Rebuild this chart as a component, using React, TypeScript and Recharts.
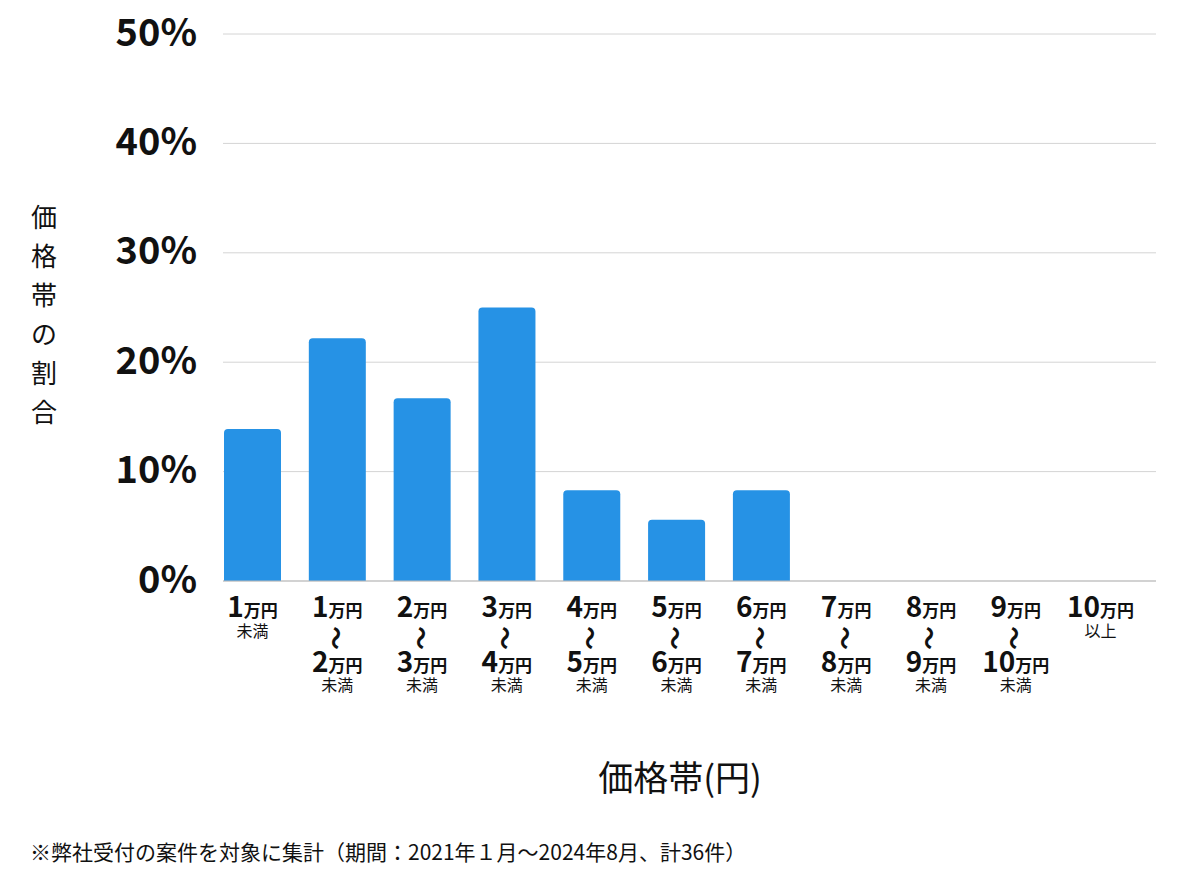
import { BarChart, Bar, XAxis, YAxis, CartesianGrid } from 'recharts';

const categories = [
  '1万円未満',
  '1万円〜2万円未満',
  '2万円〜3万円未満',
  '3万円〜4万円未満',
  '4万円〜5万円未満',
  '5万円〜6万円未満',
  '6万円〜7万円未満',
  '7万円〜8万円未満',
  '8万円〜9万円未満',
  '9万円〜10万円未満',
  '10万円以上',
];
const shares = [13.9, 22.2, 16.7, 25.0, 8.3, 5.6, 8.3, 0, 0, 0, 0];
const yTicks = [0, 10, 20, 30, 40, 50];
const yTitle = '価格帯の割合';
const xTitle = '価格帯(円)';
const note = '※弊社受付の案件を対象に集計（期間：2021年１月～2024年8月、計36件）';

const data = categories.map((c, i) => ({ name: c, share: shares[i] }));

const FONT = '"Noto Sans CJK JP", "Noto Sans", sans-serif';

function Yen({ x, y, n }: { x: number; y: number; n: string }) {
  return (
    <text x={x} y={y} textAnchor="middle" fill="#111" fontFamily={FONT} fontWeight={700}>
      <tspan fontSize={28}>{n}</tspan>
      <tspan fontSize={17}>万円</tspan>
    </text>
  );
}

function XTick(props: any) {
  const { x, payload } = props;
  const v: string = payload.value;
  const range = v.match(/^(\d+)万円〜(\d+)万円(.*)$/);
  if (range) {
    return (
      <g>
        <Yen x={x} y={617} n={range[1]} />
        <text x={x} y={638} transform={`rotate(90, ${x}, 638)`} textAnchor="middle" dominantBaseline="central"
          fontSize={24} fontWeight={700} fontFamily={FONT} fill="#111">〜</text>
        <Yen x={x} y={672} n={range[2]} />
        <text x={x} y={691} textAnchor="middle" fontSize={16} fontFamily={FONT} fill="#111">{range[3]}</text>
      </g>
    );
  }
  const single = v.match(/^(\d+)万円(.*)$/);
  return (
    <g>
      <Yen x={x} y={617} n={single ? single[1] : v} />
      <text x={x} y={637} textAnchor="middle" fontSize={16} fontFamily={FONT} fill="#111">{single ? single[2] : ''}</text>
    </g>
  );
}

function YTick(props: any) {
  const { y, payload } = props;
  return (
    <text x={197} y={y - 5} textAnchor="end" dominantBaseline="central" fontSize={38} fontWeight={700}
      fontFamily={FONT} fill="#111">{payload.value}%</text>
  );
}

function YTitle() {
  return (
    <g>
      {yTitle.split('').map((ch, i) => (
        <text key={i} x={44} y={215 + i * 39} textAnchor="middle" dominantBaseline="central"
          fontSize={26} fontFamily={FONT} fill="#111">{ch}</text>
      ))}
    </g>
  );
}

export default function App() {
  return (
    <div style={{ position: 'absolute', left: 0, top: 0, width: 1200, height: 874, background: '#fff', fontFamily: FONT }}>
      <BarChart width={1200} height={874} data={data} margin={{ top: 34, right: 44, bottom: 0, left: 0 }}>
        <CartesianGrid vertical={false} stroke="#d4d4d4" />
        <XAxis dataKey="name" interval={0} tickLine={false} axisLine={{ stroke: '#bbb' }} height={293}
          padding={{ left: -13, right: 13 }} tick={<XTick />} />
        <YAxis width={223} domain={[0, 50]} ticks={yTicks} tickLine={false} axisLine={false}
          tick={<YTick />} label={<YTitle />} />
        <Bar dataKey="share" fill="#2692e5" barSize={57} radius={[4, 4, 0, 0]} isAnimationActive={false} />
      </BarChart>
      <div style={{ position: 'absolute', left: 0, width: 1360, top: 750, textAlign: 'center', fontSize: 35, color: '#111' }}>
        {xTitle}
      </div>
      <div style={{ position: 'absolute', left: 30, top: 836, fontSize: 21, color: '#111', whiteSpace: 'nowrap' }}>
        {note}
      </div>
    </div>
  );
}
